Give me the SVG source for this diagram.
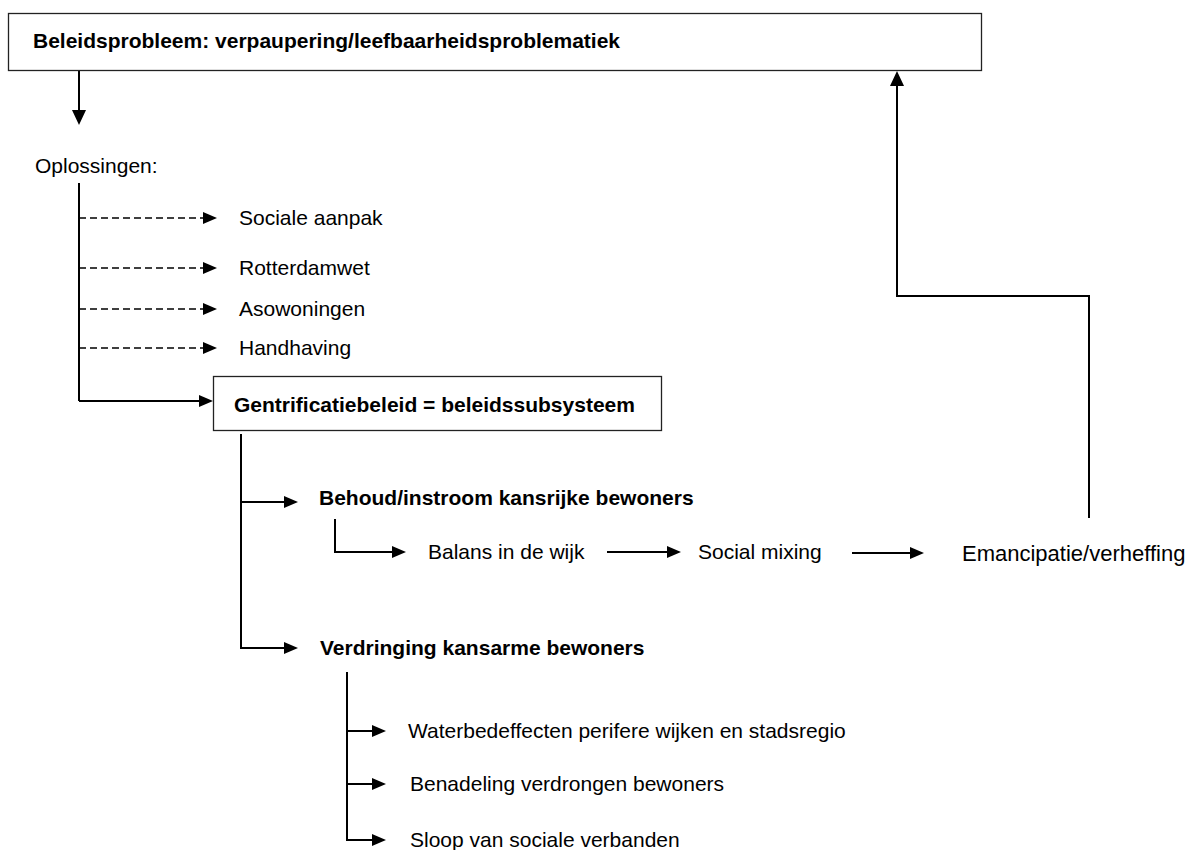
<svg xmlns="http://www.w3.org/2000/svg" width="1199" height="850" viewBox="0 0 1199 850">
<style>
text{font-family:"Liberation Sans",Arial,sans-serif;font-size:21px;fill:#000}
.b{font-weight:bold}
.box{fill:#fff;stroke:#222;stroke-width:1.3}
.ln{fill:none;stroke:#000;stroke-width:2}
.ds{fill:none;stroke:#000;stroke-width:1.6;stroke-dasharray:7 4}
.ah{fill:#000}
</style>
<rect width="1199" height="850" fill="#fff"/>
<g id="connectors">
<line class="ln" x1="79" y1="71" x2="79" y2="111"/>
<polygon class="ah" points="72,110 86,110 79,125"/>
<line class="ln" x1="79" y1="183" x2="79" y2="401"/>
<line class="ds" x1="79" y1="218" x2="204" y2="218"/>
<polygon class="ah" points="203,212 203,224 217,218"/>
<line class="ds" x1="79" y1="268" x2="204" y2="268"/>
<polygon class="ah" points="203,262 203,274 217,268"/>
<line class="ds" x1="79" y1="309" x2="204" y2="309"/>
<polygon class="ah" points="203,303 203,315 217,309"/>
<line class="ds" x1="79" y1="348" x2="204" y2="348"/>
<polygon class="ah" points="203,342 203,354 217,348"/>
<line class="ln" x1="79" y1="401" x2="200" y2="401"/>
<polygon class="ah" points="199,395 199,407 213,401"/>
<polyline class="ln" points="241,434 241,648 285,648"/>
<line class="ln" x1="241" y1="502" x2="285" y2="502"/>
<polygon class="ah" points="284,496 284,508 298,502"/>
<polygon class="ah" points="284,642 284,654 298,648"/>
<polyline class="ln" points="335,519 335,552 393,552"/>
<polygon class="ah" points="392,546 392,558 406,552"/>
<line class="ln" x1="607" y1="552" x2="668" y2="552"/>
<polygon class="ah" points="667,546 667,558 681,552"/>
<line class="ln" x1="852" y1="553" x2="911" y2="553"/>
<polygon class="ah" points="910,547 910,559 924,553"/>
<polyline class="ln" points="1089,518 1089,296 897,296 897,84"/>
<polygon class="ah" points="890,86 904,86 897,71"/>
<polyline class="ln" points="347,672 347,840 373,840"/>
<line class="ln" x1="347" y1="731" x2="373" y2="731"/>
<polygon class="ah" points="372,725 372,737 386,731"/>
<line class="ln" x1="347" y1="784" x2="373" y2="784"/>
<polygon class="ah" points="372,778 372,790 386,784"/>
<polygon class="ah" points="372,834 372,846 386,840"/>
</g>
<g id="n-beleidsprobleem">
<rect class="box" x="8.5" y="13.5" width="973" height="57"/>
<text class="b" x="33" y="48">Beleidsprobleem: verpaupering/leefbaarheidsproblematiek</text>
</g>
<g id="n-oplossingen"><text x="35" y="173">Oplossingen:</text></g>
<g id="n-sociale"><text x="239" y="225">Sociale aanpak</text></g>
<g id="n-rotterdamwet"><text x="239" y="275">Rotterdamwet</text></g>
<g id="n-asowoningen"><text x="239" y="316">Asowoningen</text></g>
<g id="n-handhaving"><text x="239" y="355">Handhaving</text></g>
<g id="n-gentrificatie">
<rect class="box" x="213.5" y="376.5" width="448" height="54"/>
<text class="b" x="234" y="412">Gentrificatiebeleid = beleidssubsysteem</text>
</g>
<g id="n-behoud"><text class="b" x="319" y="505">Behoud/instroom kansrijke bewoners</text></g>
<g id="n-balans"><text x="428" y="559">Balans in de wijk</text></g>
<g id="n-social"><text x="698" y="559">Social mixing</text></g>
<g id="n-emancipatie"><text x="962" y="561" style="font-size:22px">Emancipatie/verheffing</text></g>
<g id="n-verdringing"><text class="b" x="320" y="655">Verdringing kansarme bewoners</text></g>
<g id="n-waterbed"><text x="408" y="738">Waterbedeffecten perifere wijken en stadsregio</text></g>
<g id="n-benadeling"><text x="410" y="791">Benadeling verdrongen bewoners</text></g>
<g id="n-sloop"><text x="410" y="847">Sloop van sociale verbanden</text></g>
</svg>
